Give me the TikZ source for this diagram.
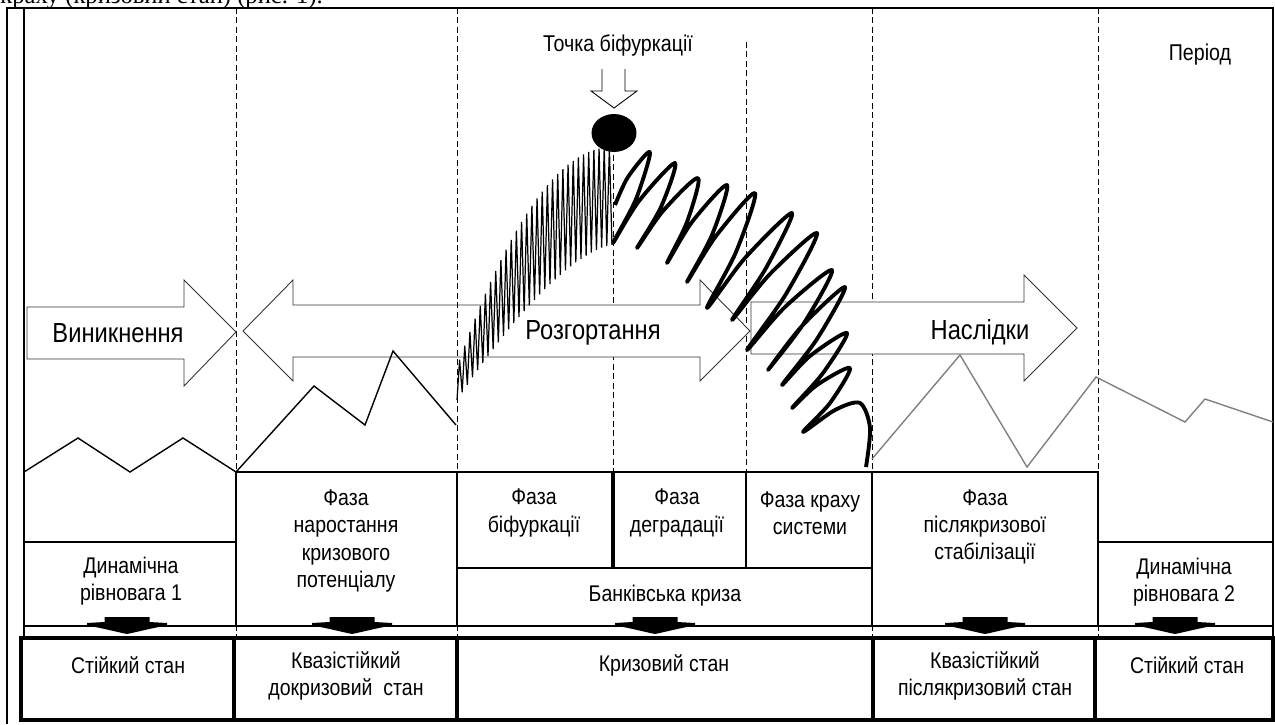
\documentclass[tikz,border=0pt]{standalone}
\usepackage{fontspec}
\setmainfont{Liberation Sans}[FakeStretch=0.86]
\newfontfamily\docfont{Liberation Serif}
\usetikzlibrary{calc,fit,shapes.geometric}

\begin{document}
\begin{tikzpicture}[x=0.02cm,y=-0.02cm,
    phase/.style={draw,line width=0.7pt,inner sep=0pt},
    state/.style={draw,line width=2.2pt,inner sep=0pt},
    lbl/.style={align=center,inner sep=0pt,font=\fontsize{12.9}{15.4}\selectfont},
    big/.style={inner sep=0pt,font=\fontsize{15.7}{18}\selectfont},
    note/.style={inner sep=0pt,font=\fontsize{13}{15}\selectfont},
    grid/.style={dash pattern=on 3.4pt off 2pt,line width=0.5pt},
    blockarrow/.style={draw=black!80,fill=white,line width=0.5pt},
    pics/fatdown/.style={code={
      \fill (-22.5,0) -- (22.5,0) -- (22.5,5) -- (40,6) -- (40,8.5)
        .. controls (25,11) and (10,15) .. (0,17)
        .. controls (-10,15) and (-25,11) .. (-40,8.5) -- (-40,6) -- (-22.5,5) -- cycle;
    }}]
    \useasboundingbox (0,0) rectangle (1275,724);

    \node[anchor=base west,inner sep=0pt,font=\docfont\fontsize{14}{16}\selectfont] (head) at (0,3) {краху (кризовий стан) (рис. 1).};

    \draw[line width=0.8pt] (7,724) -- (7,8) -- (1273,8) -- (1273,720);
    \draw[line width=1.1pt] (24,8) -- (24,638);

    \foreach \gx in {236,872,1098} \draw[grid] (\gx,8) -- (\gx,638);
    \draw[grid] (613,155) -- (613,472);
    \draw[grid] (746,42) -- (746,472);

    \draw[blockarrow] (27,307) -- (184,307) -- (184,280) -- (236,332) -- (184,386) -- (184,359) -- (27,359) -- cycle;
    \draw[blockarrow] (243,331) -- (293,280) -- (293,305) -- (700,305) -- (700,280) -- (750,331)
         -- (700,381) -- (700,357) -- (293,357) -- (293,381) -- cycle;
    \draw[blockarrow] (751,302) -- (1024,302) -- (1024,275) -- (1077,328) -- (1024,381) -- (1024,354) -- (751,354) -- cycle;
    \draw[grid] (457,8) -- (457,638);

    \node[phase,fit={(24,542) (236,626)}] (dyn1) {};
    \node[phase,fit={(236,472) (457,626)}] (grow) {};
    \node[phase,fit={(457,472) (612,568)}] (bif) {};
    \node[phase,fit={(614,472) (746,568)}] (degr) {};
    \node[phase,fit={(746,472) (872,568)}] (crash) {};
    \node[phase,fit={(457,568) (872,626)}] (bank) {};
    \node[phase,fit={(872,472) (1098,626)}] (stab) {};
    \node[phase,fit={(1098,542) (1273,626)}] (dyn2) {};

    \node[state,fit={(21,638) (234,720)}] (st1) {};
    \node[state,fit={(234,638) (457,720)}] (qpre) {};
    \node[state,fit={(457,638) (873,720)}] (crisis) {};
    \node[state,fit={(873,638) (1095,720)}] (qpost) {};
    \node[state,fit={(1095,638) (1273,720)}] (st2) {};

    \pic at (127,617) {fatdown};
    \pic at (352,617) {fatdown};
    \pic at (655,617) {fatdown};
    \pic at (985,617) {fatdown};
    \pic at (1175,617) {fatdown};

    \draw[line width=0.8pt] (24,472) -- (78,438) -- (130,472) -- (183,438) -- (236,472)
         -- (314,386) -- (365,425) -- (393,351) -- (456,425);

    \draw[line width=0.7pt] plot[domain=0:1,samples=61,variable=\t]
      ({457+155*\t},{(147+220*(1-\t)^2+245+155*(1-\t)*sqrt(1-\t))/2
        +(245+155*(1-\t)*sqrt(1-\t)-147-220*(1-\t)^2)/2*cos(180*60*\t)});

    \draw[line width=2.2pt,line join=round] plot[smooth,tension=0.5] coordinates {
      (615,205) (628,177) (650,152) (636,199) (613,243) (639,201) (675,163) (661,207)
      (637,248) (663,211) (698,178) (687,222) (667,263) (692,222) (727,185) (712,235)
      (687,282) (716,236) (755,193) (736,252) (707,308) (745,258) (792,213) (766,268)
      (732,320) (770,274) (817,233) (786,294) (747,350) (785,307) (832,270) (804,323)
      (768,370) (802,326) (845,287) (817,339) (782,385) (810,356) (847,333) (823,373)
      (792,408) (817,385) (850,368) (830,403) (803,432) (835,410) (860,403) (870,428) (866,467)};

    \draw[line width=0.8pt,gray] (872,459) -- (960,355) -- (1027,467) -- (1096,377)
         -- (1185,422) -- (1205,399) -- (1273,422);

    \node[ellipse,fill=black,minimum width=25.6pt,minimum height=21.6pt,inner sep=0pt] (bifpt) at (614,133) {};
    \draw[line width=0.5pt] (602,69) -- (602,91) -- (591,91) -- (614,108) -- (637,91) -- (625,91) -- (625,69);

    \node[note] (bifname) at (618,45) {Точка біфуркації};
    \node[note] (period) at (1200,55) {Період};

    \node[big] (rise) at (118,333) {Виникнення};
    \node[big] (unfold) at (593,333) {Розгортання};
    \node[big] (after) at (980,332) {Наслідки};

    \node[lbl] (dyn1t) at (131,581) {Динамічна\\рівновага 1};
    \node[lbl] (growt) at (346,541) {Фаза\\наростання\\кризового\\потенціалу};
    \node[lbl] (bift) at (534,513) {Фаза\\біфуркації};
    \node[lbl] (degrt) at (677,513) {Фаза\\деградації};
    \node[lbl] (crasht) at (810,513) {Фаза краху\\системи};
    \node[lbl] (bankt) at (665,596) {Банківська криза};
    \node[lbl] (stabt) at (985,527) {Фаза\\післякризової\\стабілізації};
    \node[lbl] (dyn2t) at (1184,582) {Динамічна\\рівновага 2};

    \node[lbl] (st1t) at (128,665) {Стійкий стан};
    \node[lbl] (qpret) at (346,676) {Квазістійкий\\докризовий~ стан};
    \node[lbl] (crisist) at (664,665) {Кризовий стан};
    \node[lbl] (qpostt) at (985,676) {Квазістійкий\\післякризовий стан};
    \node[lbl] (st2t) at (1187,665) {Стійкий стан};
\end{tikzpicture}
\end{document}
